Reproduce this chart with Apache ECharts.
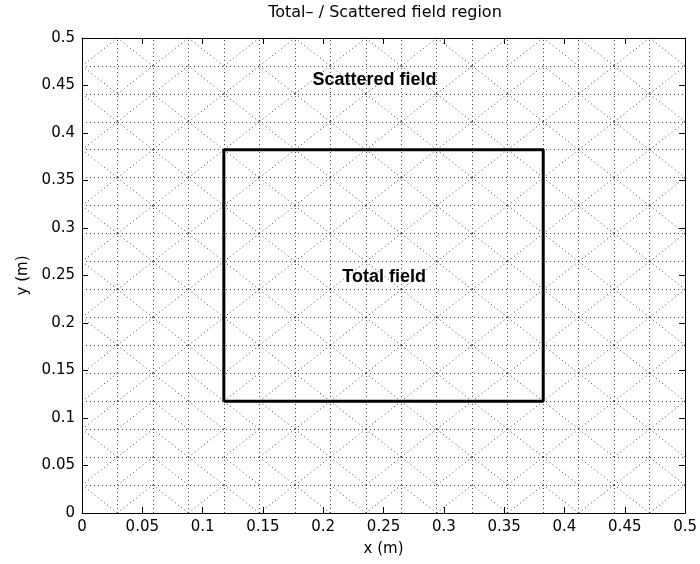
<!DOCTYPE html>
<html>
<head>
<meta charset="utf-8">
<script src="https://cdn.jsdelivr.net/npm/echarts@6/dist/echarts.min.js"></script>
<style>
  html, body { margin: 0; padding: 0; background: #fff; }
  #chart { width: 700px; height: 564px; }
</style>
</head>
<body>
<div id="chart"></div>
<script>
// Mesh node coordinates (m) along x and y
const meshX = [0, 0.0294, 0.0588, 0.0882, 0.1176, 0.1471, 0.1765, 0.2059, 0.2353,
               0.2647, 0.2941, 0.3235, 0.3529, 0.3824, 0.4118, 0.4412, 0.4706, 0.5];
const meshY = [0, 0.0294, 0.0588, 0.0882, 0.1176, 0.1471, 0.1765, 0.2059, 0.2353,
               0.2647, 0.2941, 0.3235, 0.3529, 0.3824, 0.4118, 0.4412, 0.4706, 0.5];

// Diagonal of each mesh cell, one string per cell row, top row first.
// 'd' = falling diagonal (top-left to bottom-right), 'u' = rising diagonal.
const diagRows = [
  'ududuudududuuddud',
  'duudududududududu',
  'dudududududududud',
  'ududududududududu',
  'dudududududududud',
  'ududududududududu',
  'dudududududududud',
  'ududududududududu',
  'dudududududududud',
  'ududududududududu',
  'dudududududududud',
  'ududududududududu',
  'uudduudududududud',
  'uuddddudududududu',
  'duduuudududududud',
  'uuddddududududdud',
  'dudududdududududu'
];

// Total-field box corners (m)
const boxX = [0.1176, 0.3824];
const boxY = [0.1176, 0.3824];

// Axis ticks
const tickStep = 0.05;
const axisMin = 0, axisMax = 0.5;

// Region annotations (text and anchor in data units)
const regionNames = ['Scattered field', 'Total field'];
const regionAnchors = [[0.2425, 0.4558], [0.2505, 0.2489]];

const titleText = 'Total\u2013 / Scattered field region';
const FONT = '"DejaVu Sans", "Liberation Sans", Arial, sans-serif';
const BOLD_FONT = '"Liberation Sans", Arial, Helvetica, sans-serif';

// Build mesh edges from node arrays
const gridEdges = [];
for (let k = 1; k < meshY.length - 1; k++) {
  gridEdges.push({ coords: [[meshX[0], meshY[k]], [meshX[meshX.length - 1], meshY[k]]] });
}
for (let k = 1; k < meshX.length - 1; k++) {
  gridEdges.push({ coords: [[meshX[k], meshY[0]], [meshX[k], meshY[meshY.length - 1]]] });
}
const nRows = diagRows.length;
diagRows.forEach((rowStr, t) => {
  const r = nRows - 1 - t; // row index counted from the bottom
  for (let c = 0; c < rowStr.length; c++) {
    if (rowStr[c] === 'd') {
      gridEdges.push({ coords: [[meshX[c], meshY[r + 1]], [meshX[c + 1], meshY[r]]] });
    } else {
      gridEdges.push({ coords: [[meshX[c], meshY[r]], [meshX[c + 1], meshY[r + 1]]] });
    }
  }
});

const boxPath = [
  [boxX[0], boxY[0]], [boxX[1], boxY[0]], [boxX[1], boxY[1]],
  [boxX[0], boxY[1]], [boxX[0], boxY[0]]
];

const fmt = v => String(parseFloat(v.toFixed(2)));

function axisBase(extra) {
  return Object.assign({
    type: 'value',
    min: axisMin,
    max: axisMax,
    interval: tickStep,
    splitLine: { show: false },
    axisLine: { show: true, onZero: false, lineStyle: { color: '#000', width: 1 } },
    axisTick: { show: true, inside: true, length: 6, lineStyle: { color: '#000', width: 1 } },
    axisLabel: { show: false }
  }, extra);
}

const chart = echarts.init(document.getElementById('chart'), null, { renderer: 'canvas' });
chart.setOption({
  animation: false,
  backgroundColor: '#fff',
  grid: { left: 82, top: 38, width: 604, height: 475, containLabel: false },
  xAxis: [
    axisBase({
      position: 'bottom',
      name: 'x (m)', nameLocation: 'middle', nameGap: 29,
      nameTextStyle: { color: '#000', fontSize: 15, fontFamily: FONT },
      axisLabel: { show: true, color: '#000', fontSize: 15, fontFamily: FONT, formatter: fmt,
                   margin: 7, showMinLabel: true, showMaxLabel: true }
    }),
    axisBase({ position: 'top' })
  ],
  yAxis: [
    axisBase({
      position: 'left',
      name: 'y (m)', nameLocation: 'middle', nameGap: 51, nameRotate: 90,
      nameTextStyle: { color: '#000', fontSize: 15, fontFamily: FONT },
      axisLabel: { show: true, color: '#000', fontSize: 15, fontFamily: FONT, formatter: fmt,
                   margin: 7, showMinLabel: true, showMaxLabel: true }
    }),
    axisBase({ position: 'right' })
  ],
  graphic: [{
    type: 'text', x: 385, y: 13,
    style: { text: titleText, font: '16px ' + FONT, fill: '#000',
             textAlign: 'center', textVerticalAlign: 'middle' }
  }],
  series: [
    {
      type: 'lines',
      coordinateSystem: 'cartesian2d',
      silent: true,
      data: gridEdges,
      lineStyle: { color: '#222', width: 1, type: [1, 3], opacity: 0.85 },
      z: 1
    },
    {
      type: 'line',
      data: boxPath,
      symbol: 'none',
      silent: true,
      lineStyle: { color: '#000', width: 3 },
      z: 3
    }
  ]
});

// Region annotations placed through the axes' own scales
const annotations = regionNames.map((name, k) => {
  const p = chart.convertToPixel({ gridIndex: 0 }, regionAnchors[k]);
  return {
    type: 'text', x: p[0], y: p[1], z: 10,
    style: { text: name, font: 'bold 18px ' + BOLD_FONT, fill: '#000',
             textAlign: 'center', textVerticalAlign: 'middle' }
  };
});
chart.setOption({
  graphic: [{
    type: 'text', x: 385, y: 13,
    style: { text: titleText, font: '16px ' + FONT, fill: '#000',
             textAlign: 'center', textVerticalAlign: 'middle' }
  }].concat(annotations)
});
</script>
</body>
</html>
